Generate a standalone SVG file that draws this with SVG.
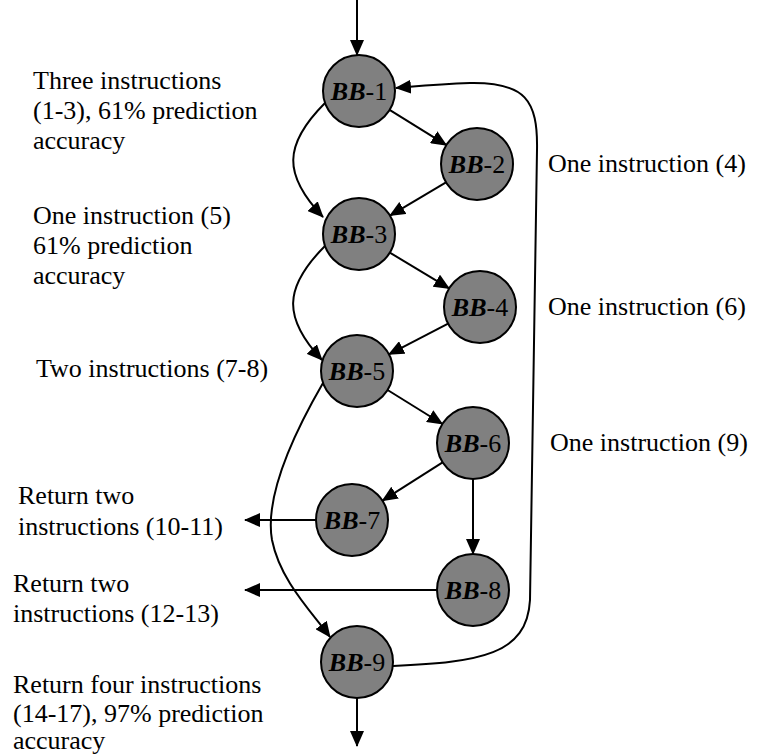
<svg xmlns="http://www.w3.org/2000/svg" width="768" height="756" viewBox="0 0 768 756">
<style>
text{font-family:"Liberation Serif","Times New Roman",serif;font-size:26px;fill:#000}
.node circle{fill:#808080;stroke:#000;stroke-width:2}
.node text{text-anchor:middle}
.bb{font-weight:bold;font-style:italic}
.edges path,.edges line{fill:none;stroke:#000;stroke-width:2;marker-end:url(#ah)}
</style>
<defs>
<marker id="ah" markerWidth="16" markerHeight="14" refX="15" refY="7" orient="auto" markerUnits="userSpaceOnUse">
<path d="M0,0 L16,7 L0,14 z" fill="#000"/>
</marker>
</defs>
<g class="edges">
<line x1="357" y1="0" x2="357" y2="55"/>
<line x1="389.6" y1="109.9" x2="446.4" y2="145.1"/>
<line x1="446" y1="182.4" x2="390" y2="215.6"/>
<line x1="389.8" y1="252.6" x2="449.2" y2="288.4"/>
<line x1="448.1" y1="323.6" x2="388.9" y2="354.4"/>
<line x1="387.6" y1="390" x2="442.4" y2="424"/>
<line x1="442.6" y1="462.3" x2="382.4" y2="500.7"/>
<line x1="473" y1="479" x2="473" y2="554"/>
<line x1="316" y1="520" x2="245" y2="520"/>
<line x1="437" y1="590" x2="245" y2="590"/>
<line x1="357" y1="698" x2="357" y2="746"/>
<path d="M325,103 C283,145 283,175 323,217"/>
<path d="M325,246 C283,288 283,318 322,360"/>
<path d="M323,383 C290,440 265,500 272,540 C280,580 310,610 330,637"/>
<path d="M393,666 C480,662 527,655 530,600 L537,150 C538,100 525,82 470,83 C440,84 420,86 396,88"/>
</g>
<g id="bb1" class="node"><circle cx="359" cy="91" r="36"/><text x="359" y="100"><tspan class="bb">BB</tspan>-1</text></g>
<g id="bb2" class="node"><circle cx="477" cy="164" r="36"/><text x="477" y="173"><tspan class="bb">BB</tspan>-2</text></g>
<g id="bb3" class="node"><circle cx="359" cy="234" r="36"/><text x="359" y="243"><tspan class="bb">BB</tspan>-3</text></g>
<g id="bb4" class="node"><circle cx="480" cy="307" r="36"/><text x="480" y="316"><tspan class="bb">BB</tspan>-4</text></g>
<g id="bb5" class="node"><circle cx="357" cy="371" r="36"/><text x="357" y="380"><tspan class="bb">BB</tspan>-5</text></g>
<g id="bb6" class="node"><circle cx="473" cy="443" r="36"/><text x="473" y="452"><tspan class="bb">BB</tspan>-6</text></g>
<g id="bb7" class="node"><circle cx="352" cy="520" r="36"/><text x="352" y="529"><tspan class="bb">BB</tspan>-7</text></g>
<g id="bb8" class="node"><circle cx="473" cy="590" r="36"/><text x="473" y="599"><tspan class="bb">BB</tspan>-8</text></g>
<g id="bb9" class="node"><circle cx="357" cy="662" r="36"/><text x="357" y="671"><tspan class="bb">BB</tspan>-9</text></g>
<g id="labels">
<text x="33" y="89">Three instructions</text>
<text x="33" y="119">(1-3), 61% prediction</text>
<text x="33" y="149">accuracy</text>
<text x="33" y="224">One instruction (5)</text>
<text x="33" y="254">61% prediction</text>
<text x="33" y="284">accuracy</text>
<text x="36" y="377">Two instructions (7-8)</text>
<text x="548" y="172">One instruction (4)</text>
<text x="548" y="315">One instruction (6)</text>
<text x="550" y="451">One instruction (9)</text>
<text x="18" y="504">Return two</text>
<text x="18" y="535">instructions (10-11)</text>
<text x="13" y="592">Return two</text>
<text x="13" y="622">instructions (12-13)</text>
<text x="13" y="693">Return four instructions</text>
<text x="13" y="722">(14-17), 97% prediction</text>
<text x="13" y="749">accuracy</text>
</g>
</svg>
